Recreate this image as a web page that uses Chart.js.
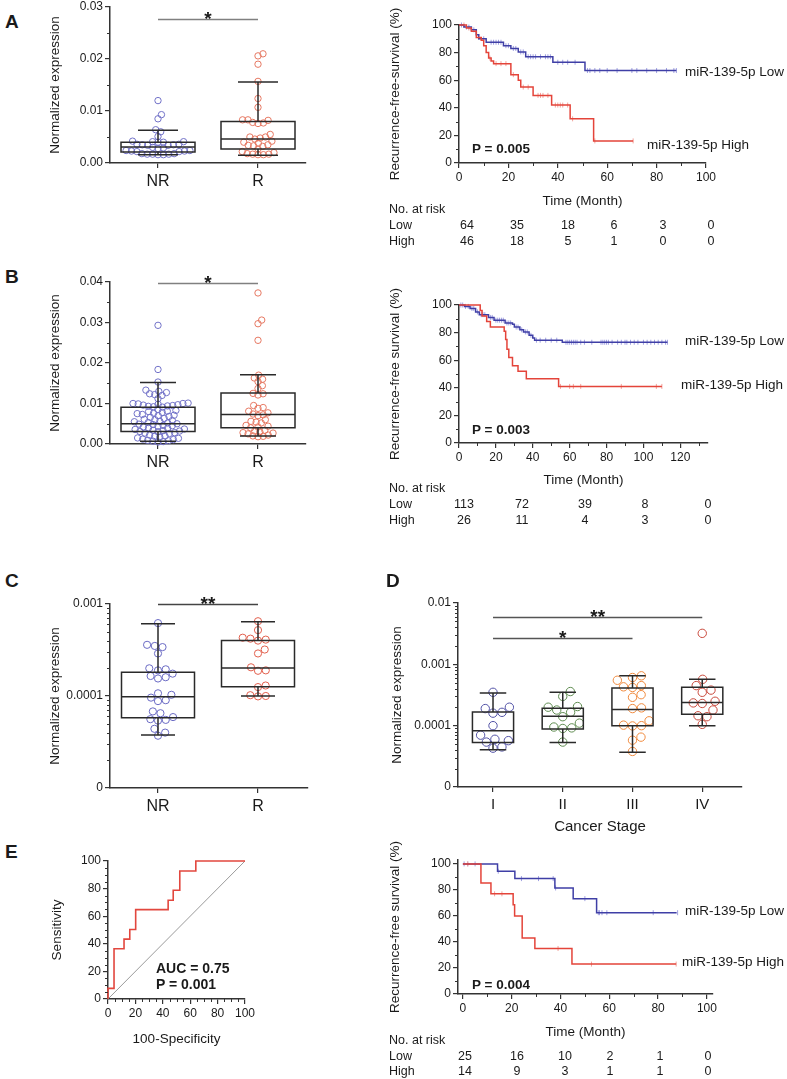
<!DOCTYPE html>
<html>
<head>
<meta charset="utf-8">
<script src="https://cdn.jsdelivr.net/npm/chart.js@4.4.1/dist/chart.umd.min.js"></script>
<style>
  body { margin: 0; background: #fff; width: 787px; height: 1079px; position: relative; overflow: hidden;
         font-family: "Liberation Sans", Arial, sans-serif; color: #1a1a1a; }
  canvas { position: absolute; }
  .t { position: absolute; white-space: nowrap; line-height: 1; }
</style>
</head>
<body>
<script>
// ---------- data ----------
const boxCats = ['NR', 'R'];
const stageCats = ['I', 'II', 'III', 'IV'];

// A, left: normalized expression
const aNR = [0.0120, 0.0093, 0.0085, 0.0064, 0.0060, 0.0051, 0.0042, 0.0041, 0.0041, 0.0040, 0.0040,
  0.0036, 0.0036, 0.0035, 0.0035, 0.0034, 0.0034, 0.0030, 0.0029, 0.0028, 0.0024, 0.0024, 0.0023,
  0.0023, 0.0022, 0.0022, 0.0018, 0.0018, 0.0017, 0.0017, 0.0017, 0.0016, 0.0016];
const aR = [0.0210, 0.0206, 0.0190, 0.0157, 0.0124, 0.0107, 0.0083, 0.0083, 0.0082, 0.0078, 0.0077,
  0.0076, 0.0055, 0.0050, 0.0050, 0.0048, 0.0046, 0.0042, 0.0040, 0.0038, 0.0035, 0.0034, 0.0033,
  0.0032, 0.0027, 0.0022, 0.0020, 0.0018, 0.0017, 0.0017, 0.0016, 0.0016];
// [whisker low, q1, median, q3, whisker high]
const aNRBox = [0.0016, 0.0021, 0.0031, 0.0040, 0.0063];
const aRBox = [0.0015, 0.0027, 0.0046, 0.0080, 0.0156];

// B, left
const bNR = [0.0293, 0.0184, 0.0153, 0.0133, 0.0130, 0.0127, 0.0124, 0.0122, 0.0120, 0.0112,
  0.0101, 0.0100, 0.0100, 0.0099, 0.0098, 0.0097, 0.0096, 0.0095, 0.0094, 0.0093, 0.0092, 0.0091,
  0.0085, 0.0083, 0.0081, 0.0080, 0.0078, 0.0076, 0.0075, 0.0073, 0.0071, 0.0070, 0.0068, 0.0066,
  0.0063, 0.0061, 0.0060, 0.0058, 0.0056, 0.0055, 0.0053, 0.0052, 0.0050, 0.0049, 0.0048, 0.0046,
  0.0045, 0.0044, 0.0042, 0.0040, 0.0039, 0.0037, 0.0036, 0.0034, 0.0033, 0.0032, 0.0031, 0.0030,
  0.0028, 0.0027, 0.0026, 0.0022, 0.0020, 0.0019, 0.0017, 0.0015, 0.0014, 0.0012, 0.0011, 0.0009,
  0.0008, 0.0007, 0.0006, 0.0005];
const bR = [0.0373, 0.0306, 0.0297, 0.0256, 0.0170, 0.0163, 0.0160, 0.0154, 0.0144, 0.0137, 0.0125,
  0.0124, 0.0121, 0.0095, 0.0090, 0.0088, 0.0081, 0.0077, 0.0074, 0.0072, 0.0070, 0.0060, 0.0056,
  0.0054, 0.0052, 0.0046, 0.0044, 0.0042, 0.0040, 0.0034, 0.0032, 0.0030, 0.0028, 0.0027, 0.0025,
  0.0022, 0.0020, 0.0019, 0.0018];
const bNRBox = [0.0007, 0.0031, 0.0050, 0.0091, 0.0152];
const bRBox = [0.0020, 0.0040, 0.0073, 0.0126, 0.0171];

// C (log axis, bottom "0" = 1e-5)
const cNR = [6.2e-4, 3.6e-4, 3.5e-4, 3.4e-4, 2.9e-4, 2.0e-4, 1.95e-4, 1.9e-4, 1.75e-4, 1.65e-4, 1.6e-4,
  1.55e-4, 1.07e-4, 1.03e-4, 9.6e-5, 9.0e-5, 8.8e-5, 6.8e-5, 6.5e-5, 5.9e-5, 5.6e-5, 5.5e-5, 5.4e-5,
  4.4e-5, 4.0e-5, 3.7e-5];
const cR = [6.5e-4, 5.2e-4, 4.3e-4, 4.2e-4, 4.1e-4, 4.0e-4, 3.2e-4, 2.9e-4, 2.05e-4, 1.9e-4, 1.88e-4,
  1.3e-4, 1.25e-4, 1.02e-4, 1.0e-4, 0.99e-4];
const cNRBox = [3.76e-5, 5.8e-5, 9.8e-5, 1.81e-4, 6.1e-4];
const cRBox = [1.0e-4, 1.26e-4, 2.02e-4, 4.0e-4, 6.4e-4];

// D (log axis, by stage)
const dI = [3.5e-4, 2.0e-4, 1.9e-4, 1.65e-4, 1.6e-4, 1.0e-4, 7.0e-5, 6.0e-5, 5.7e-5, 5.4e-5, 4.5e-5, 4.3e-5];
const dII = [3.6e-4, 3.0e-4, 2.05e-4, 2.0e-4, 1.8e-4, 1.65e-4, 1.4e-4, 1.1e-4, 9.5e-5, 9.2e-5, 9.0e-5, 5.4e-5];
const dIII = [6.5e-4, 6.1e-4, 5.5e-4, 4.5e-4, 4.3e-4, 4.2e-4, 3.2e-4, 2.9e-4, 1.95e-4, 1.9e-4, 1.2e-4,
  1.02e-4, 1.0e-4, 0.99e-4, 6.5e-5, 5.8e-5, 3.8e-5];
const dIV = [3.2e-3, 5.7e-4, 4.5e-4, 3.8e-4, 3.5e-4, 2.5e-4, 2.35e-4, 2.3e-4, 1.8e-4, 1.45e-4, 1.4e-4, 1.05e-4];
const dIBox = [4.05e-5, 5.3e-5, 8.3e-5, 1.67e-4, 3.4e-4];
const dIIBox = [5.3e-5, 8.8e-5, 1.42e-4, 1.92e-4, 3.5e-4];
const dIIIBox = [3.7e-5, 1.0e-4, 1.83e-4, 4.1e-4, 6.5e-4];
const dIVBox = [1.0e-4, 1.53e-4, 2.38e-4, 4.25e-4, 5.7e-4];

// Kaplan-Meier: step times (month) and survival (%) after each step, censor times
const kmALowT = [0, 2, 5, 7, 8, 11, 18, 21, 24, 27, 38, 51, 88];
const kmALowS = [100, 98.5, 96.5, 93, 90, 87.5, 85, 83, 80.5, 77, 73, 67, 67];
const kmALowC = [1, 3, 4, 6, 10, 13, 14, 15, 16, 17, 19, 20, 22, 23, 25, 26, 28, 29, 30, 31, 33, 35, 36,
  37, 40, 42, 44, 47, 52, 53, 55, 57, 60, 64, 70, 72, 76, 80, 84, 87, 88];
const kmAHighT = [0, 3, 5, 7, 9, 10, 11, 12, 13, 14, 21, 24, 25, 30, 37.5, 45, 54.5, 70.5];
const kmAHighS = [100, 97.8, 95.5, 91, 89, 85, 80, 76, 74, 72, 64, 60, 55, 49, 42, 32, 16, 16];
const kmAHighC = [2, 4, 8, 12.5, 15, 17, 19, 22, 26, 28, 32, 33, 34, 36, 39, 40, 41, 42, 44, 46, 55, 70.5];

const kmBLowT = [0, 3, 6, 9, 11, 16, 19, 25, 29, 30, 33, 35, 38, 40, 41, 56, 113];
const kmBLowS = [100, 99, 97.5, 95, 93, 91, 89, 87, 86, 84, 82, 80.5, 78, 76, 74.5, 73, 73];
const kmBLowC = [1, 2, 3.5, 5, 7, 8, 10, 12, 13, 14, 17, 18, 20, 21, 22, 23, 24, 26, 27, 28, 31, 32, 34,
  36, 37, 39, 42, 44, 47, 50, 53, 58, 59, 60, 61, 62, 63, 64, 66, 68, 72, 77, 78, 79, 80, 81, 83, 86,
  88, 90, 91, 93, 95, 97, 100, 102, 104, 106, 108, 110, 112, 113];
const kmBHighT = [0, 11.5, 12.5, 15, 17, 24.5, 25.3, 26, 27, 29, 32, 36.5, 54, 110];
const kmBHighS = [100, 96, 92, 88, 84, 81, 75, 68, 62, 56, 52, 46.5, 41, 41];
const kmBHighC = [55, 60, 62, 66, 88, 107, 110];

const kmELowT = [0, 14.2, 21.3, 37.7, 45.2, 54.8, 87.6];
const kmELowS = [100, 94.4, 88.7, 81.5, 73.3, 62.5, 62.5];
const kmELowC = [0.5, 2, 5, 14.5, 24, 31, 37, 38, 50, 55.5, 56, 57, 59, 78, 88];
const kmEHighT = [0, 7.4, 11.5, 20.6, 21.2, 24.3, 29.5, 44.7, 87.4];
const kmEHighS = [100, 85.3, 77, 68.6, 60, 43, 35, 23, 23];
const kmEHighC = [2, 13, 16, 39, 52.7, 87.4];

// numbers at risk
const riskALow = [64, 35, 18, 6, 3, 0];
const riskAHigh = [46, 18, 5, 1, 0, 0];
const riskBLow = [113, 72, 39, 8, 0];
const riskBHigh = [26, 11, 4, 3, 0];
const riskELow = [25, 16, 10, 2, 1, 0];
const riskEHigh = [14, 9, 3, 1, 1, 0];

// ROC (E, left)
const rocFpr = [0, 0, 4.4, 11.7, 15.9, 20.2, 43.9, 47.6, 52.4, 64.1, 100];
const rocTpr = [0, 7.7, 36.4, 43.4, 50.4, 64.8, 71.6, 78.8, 92.8, 100, 100];
const chanceLine = [0, 100];

// ---------- styling / layout ----------
const FONT = '"Liberation Sans", Arial, sans-serif';
const INK = '#333';
const BLUE = '#3f3fa6', RED = '#e4443a';
const BLUE_L = '#a0a0e0', RED_L = '#f2a39c';
const PAD_T = 32, PAD_R = 24;

// target chart areas in page pixels
const AREA = {
  aBox: {l: 110, t: 7, r: 306, b: 163},
  aKm: {l: 459, t: 25, r: 706, b: 163},
  bBox: {l: 110, t: 282, r: 306, b: 444},
  bKm: {l: 459, t: 305, r: 708, b: 443},
  cBox: {l: 110, t: 604, r: 308, b: 788},
  dBox: {l: 458, t: 603, r: 742, b: 787},
  eRoc: {l: 108, t: 861, r: 245, b: 999},
  eKm: {l: 458, t: 860, r: 713, b: 994}
};

function place(area, yW, xH) {
  const c = document.createElement('canvas');
  const left = area.l - yW, top = area.t - PAD_T;
  c.width = area.r - left + PAD_R;
  c.height = area.b + xH - top;
  c.style.left = left + 'px';
  c.style.top = top + 'px';
  document.body.appendChild(c);
  return {canvas: c, padding: {top: PAD_T, right: PAD_R, left: 0, bottom: 0}};
}

function axis(o) {
  return {
    type: o.type || 'linear', min: o.min, max: o.max,
    afterFit: s => { if (s.isHorizontal()) s.height = o.size; else s.width = o.size; },
    afterBuildTicks: s => { s.ticks = o.ticks.map(v => ({value: v})); },
    ticks: {font: {family: FONT, size: o.font || 12}, color: '#1a1a1a', padding: o.pad, autoSkip: false,
      maxRotation: 0, callback: o.fmt || (v => String(v))},
    grid: {drawOnChartArea: false, drawTicks: true, tickLength: 5, color: INK, lineWidth: 1.2},
    border: {display: true, color: INK, width: 1.5},
    title: {display: !!o.title, text: o.title || '', font: {family: FONT, size: o.titleFont || 13.5},
      color: '#1a1a1a', padding: 0}
  };
}

function base(padding, scales) {
  return {
    responsive: false, animation: false, events: [],
    layout: {padding},
    plugins: {legend: {display: false}, tooltip: {enabled: false}},
    scales
  };
}

// short unlabeled ticks between the labeled ones
function minorPlugin(xs, ys) {
  return {
    id: 'minor',
    afterDraw(chart) {
      const {ctx, chartArea: a, scales: {x, y}} = chart;
      ctx.save();
      ctx.strokeStyle = INK;
      ctx.lineWidth = 1;
      ctx.beginPath();
      xs.forEach(v => { const p = Math.round(x.getPixelForValue(v)) + 0.5; ctx.moveTo(p, a.bottom); ctx.lineTo(p, a.bottom + 3); });
      ys.forEach(v => { const p = Math.round(y.getPixelForValue(v)) + 0.5; ctx.moveTo(a.left, p); ctx.lineTo(a.left - 3, p); });
      ctx.stroke();
      ctx.restore();
    }
  };
}

function boxPlugin(stats, half, cap) {
  return {
    id: 'boxes',
    afterDatasetsDraw(chart) {
      const {ctx, scales: {x, y}} = chart;
      ctx.save();
      ctx.strokeStyle = '#2a2a2a';
      ctx.lineWidth = 1.5;
      stats.forEach((s, i) => {
        const [lo, q1, med, q3, hi] = s.map(v => y.getPixelForValue(v));
        const xl = x.getPixelForValue(i - half), xr = x.getPixelForValue(i + half);
        const cl = x.getPixelForValue(i - cap), cr = x.getPixelForValue(i + cap);
        const xc = x.getPixelForValue(i);
        ctx.beginPath();
        ctx.rect(xl, q3, xr - xl, q1 - q3);
        ctx.moveTo(xl, med); ctx.lineTo(xr, med);
        ctx.moveTo(xc, q3); ctx.lineTo(xc, hi);
        ctx.moveTo(xc, q1); ctx.lineTo(xc, lo);
        ctx.moveTo(cl, hi); ctx.lineTo(cr, hi);
        ctx.moveTo(cl, lo); ctx.lineTo(cr, lo);
        ctx.stroke();
      });
      ctx.restore();
    }
  };
}

function sigPlugin(bars, color) {
  return {
    id: 'sig',
    afterDraw(chart) {
      const {ctx, scales: {x, y}} = chart;
      ctx.save();
      bars.forEach(b => {
        const py = Math.round(y.getPixelForValue(b.y)) + 0.5;
        const x0 = x.getPixelForValue(b.from), x1 = x.getPixelForValue(b.to);
        ctx.strokeStyle = color;
        ctx.lineWidth = 1.5;
        ctx.beginPath(); ctx.moveTo(x0, py); ctx.lineTo(x1, py); ctx.stroke();
        ctx.fillStyle = '#1a1a1a';
        ctx.font = 'bold 19px ' + FONT;
        ctx.textAlign = 'center';
        ctx.textBaseline = 'alphabetic';
        ctx.fillText(b.text, (x0 + x1) / 2, py + 5);
      });
      ctx.restore();
    }
  };
}

// deterministic beeswarm offsets, in pixels
function swarm(values, toPx, diam) {
  const pts = values.map((v, i) => ({i, y: toPx(v)})).sort((a, b) => b.y - a.y);
  const placed = [], out = new Array(values.length);
  pts.forEach(p => {
    const cands = [0];
    placed.forEach(q => {
      const dy = Math.abs(q.y - p.y);
      if (dy < diam) { const dx = Math.sqrt(diam * diam - dy * dy); cands.push(q.x + dx, q.x - dx); }
    });
    cands.sort((a, b) => Math.abs(a) - Math.abs(b));
    const x = cands.find(c => placed.every(q => (q.x - c) ** 2 + (q.y - p.y) ** 2 >= diam * diam - 0.01));
    placed.push({x, y: p.y});
    out[p.i] = x;
  });
  return out;
}

function boxChart(o) {
  const {canvas, padding} = place(o.area, o.yW, o.xH);
  const h = o.area.b - o.area.t;
  const yPx = o.log
    ? v => o.area.b - (Math.log10(v) - Math.log10(o.ymin)) / (Math.log10(o.ymax) - Math.log10(o.ymin)) * h
    : v => o.area.b - (v - o.ymin) / (o.ymax - o.ymin) * h;
  const catPx = (o.area.r - o.area.l) / (o.xmax - o.xmin);
  const datasets = o.groups.map((vals, i) => {
    const offs = swarm(vals, yPx, o.gap);
    return {
      data: vals.map((v, k) => ({x: i + offs[k] / catPx, y: v})),
      pointRadius: o.radius, pointBorderWidth: 1, pointBorderColor: o.colors[i],
      pointBackgroundColor: 'rgba(255,255,255,0)', clip: false
    };
  });
  new Chart(canvas, {
    type: 'scatter',
    data: {datasets},
    options: base(padding, {
      x: axis({min: o.xmin, max: o.xmax, ticks: o.cats.map((c, i) => i), fmt: (v, i) => o.cats[i],
        size: o.xH, font: o.catFont, pad: 4, title: o.xTitle, titleFont: 15}),
      y: axis({type: o.log ? 'logarithmic' : 'linear', min: o.ymin, max: o.ymax, ticks: o.yticks,
        fmt: (v, i) => o.ylabels[i], size: o.yW, pad: 2, title: 'Normalized expression'})
    }),
    plugins: [boxPlugin(o.stats, o.half, o.cap), sigPlugin(o.sig, o.sigColor), minorPlugin([], o.yminor)]
  });
}

const KM_TICKS = [0, 20, 40, 60, 80, 100];
const KM_MINOR = [10, 30, 50, 70, 90];

function kmChart(o) {
  const {canvas, padding} = place(o.area, o.yW, o.xH);
  const survAt = (c, t) => { let s = c.S[0]; c.T.forEach((ti, i) => { if (ti <= t) s = c.S[i]; }); return s; };
  const lines = o.curves.map(c => ({
    data: c.T.map((t, i) => ({x: t, y: c.S[i]})), showLine: true, stepped: true,
    borderColor: c.color, borderWidth: 1.5, pointRadius: 0, clip: 4
  }));
  const marks = o.curves.map(c => ({
    data: c.C.map(t => ({x: t, y: survAt(c, t)})), showLine: false, pointStyle: 'line', rotation: 90,
    pointRadius: 2.5, pointBorderWidth: 1, pointBorderColor: c.light, clip: 4
  }));
  new Chart(canvas, {
    type: 'scatter',
    data: {datasets: [...lines, ...marks]},
    options: base(padding, {
      x: axis({min: o.xmin, max: o.xmax, ticks: o.xticks, size: o.xH, pad: 2, title: 'Time (Month)'}),
      y: axis({min: 0, max: o.ymax, ticks: KM_TICKS, size: o.yW, pad: 2, title: o.yTitle})
    }),
    plugins: [minorPlugin(o.xminor, KM_MINOR)]
  });
}

function text(str, x, y, o = {}) {
  const d = document.createElement('div');
  d.className = 't';
  d.textContent = str;
  d.style.left = x + 'px';
  d.style.top = y + 'px';
  d.style.fontSize = (o.size || 13.5) + 'px';
  if (o.bold) d.style.fontWeight = 'bold';
  const ax = o.align === 'center' ? -50 : o.align === 'right' ? -100 : 0;
  d.style.transform = `translate(${ax}%, -50%)`;
  document.body.appendChild(d);
}

function riskTable(rows, cols, low, high) {
  text('No. at risk', 389, rows[0], {size: 12.5});
  text('Low', 389, rows[1], {size: 12.5});
  text('High', 389, rows[2], {size: 12.5});
  cols.forEach((cx, i) => {
    text(String(low[i]), cx, rows[1], {size: 12.5, align: 'center'});
    text(String(high[i]), cx, rows[2], {size: 12.5, align: 'center'});
  });
}

// ---------- panels ----------
const LIN_BLUE = '#7272c8', LIN_RED = '#e67862';

boxChart({
  area: AREA.aBox, yW: 63, xH: 30, xmin: -0.48, xmax: 1.48, cats: boxCats, catFont: 16,
  ymin: 0, ymax: 0.03, yticks: [0, 0.01, 0.02, 0.03], ylabels: ['0.00', '0.01', '0.02', '0.03'],
  yminor: [0.005, 0.015, 0.025], groups: [aNR, aR], colors: [LIN_BLUE, LIN_RED], radius: 3.2, gap: 5.4,
  stats: [aNRBox, aRBox], half: 0.37, cap: 0.2, sig: [{from: 0, to: 1, y: 0.0277, text: '*'}], sigColor: '#808080'
});

boxChart({
  area: AREA.bBox, yW: 63, xH: 30, xmin: -0.48, xmax: 1.48, cats: boxCats, catFont: 16,
  ymin: 0, ymax: 0.04, yticks: [0, 0.01, 0.02, 0.03, 0.04], ylabels: ['0.00', '0.01', '0.02', '0.03', '0.04'],
  yminor: [0.005, 0.015, 0.025, 0.035], groups: [bNR, bR], colors: [LIN_BLUE, LIN_RED], radius: 3.2, gap: 5.2,
  stats: [bNRBox, bRBox], half: 0.37, cap: 0.18, sig: [{from: 0, to: 1, y: 0.0398, text: '*'}], sigColor: '#808080'
});

const decadeMinor = (from, to) => {
  const out = [];
  for (let e = from; e < to; e++) for (let m = 2; m <= 9; m++) out.push(m * Math.pow(10, e));
  return out;
};

boxChart({
  area: AREA.cBox, yW: 63, xH: 30, xmin: -0.48, xmax: 1.5, cats: boxCats, catFont: 16, log: true,
  ymin: 1e-5, ymax: 1e-3, yticks: [1e-5, 1e-4, 1e-3], ylabels: ['0', '0.0001', '0.001'],
  yminor: decadeMinor(-5, -3), groups: [cNR, cR], colors: ['#6a6ac4', '#e2604e'], radius: 3.6, gap: 7.8,
  stats: [cNRBox, cRBox], half: 0.365, cap: 0.17, sig: [{from: 0, to: 1, y: 1e-3, text: '**'}], sigColor: '#444'
});

boxChart({
  area: AREA.dBox, yW: 69, xH: 49, xmin: -0.502, xmax: 3.57, cats: stageCats, catFont: 15, log: true,
  xTitle: 'Cancer Stage',
  ymin: 1e-5, ymax: 1e-2, yticks: [1e-5, 1e-4, 1e-3, 1e-2], ylabels: ['0', '0.0001', '0.001', '0.01'],
  yminor: decadeMinor(-5, -2), groups: [dI, dII, dIII, dIV],
  colors: ['#5252a6', '#5f8c50', '#f08a3e', '#c9493c'], radius: 4.2, gap: 9,
  stats: [dIBox, dIIBox, dIIIBox, dIVBox], half: 0.295, cap: 0.19,
  sig: [{from: 0, to: 3, y: 5.9e-3, text: '**'}, {from: 0, to: 2, y: 2.7e-3, text: '*'}], sigColor: '#555'
});

kmChart({
  area: AREA.aKm, yW: 72, xH: 46, xmin: 0, xmax: 100, ymax: 100, xticks: KM_TICKS, xminor: KM_MINOR,
  yTitle: 'Recurrence-free-survival (%)',
  curves: [
    {T: kmAHighT, S: kmAHighS, C: kmAHighC, color: RED, light: RED_L},
    {T: kmALowT, S: kmALowS, C: kmALowC, color: BLUE, light: BLUE_L}
  ]
});

kmChart({
  area: AREA.bKm, yW: 72, xH: 45, xmin: 0, xmax: 135, ymax: 100, xticks: [0, 20, 40, 60, 80, 100, 120],
  xminor: [10, 30, 50, 70, 90, 110, 130], yTitle: 'Recurrence-free survival (%)',
  curves: [
    {T: kmBHighT, S: kmBHighS, C: kmBHighC, color: RED, light: RED_L},
    {T: kmBLowT, S: kmBLowS, C: kmBLowC, color: BLUE, light: BLUE_L}
  ]
});

kmChart({
  area: AREA.eKm, yW: 71, xH: 46, xmin: -2, xmax: 102.5, ymax: 103, xticks: KM_TICKS, xminor: KM_MINOR,
  yTitle: 'Recurrence-free survival (%)',
  curves: [
    {T: kmEHighT, S: kmEHighS, C: kmEHighC, color: RED, light: RED_L},
    {T: kmELowT, S: kmELowS, C: kmELowC, color: BLUE, light: BLUE_L}
  ]
});

// ROC
(function () {
  const {canvas, padding} = place(AREA.eRoc, 59, 48);
  const rocMinor = [];
  for (let v = 5; v < 100; v += 5) if (v % 20) rocMinor.push(v);
  new Chart(canvas, {
    type: 'scatter',
    data: {datasets: [
      {data: rocFpr.map((x, i) => ({x, y: rocTpr[i]})), showLine: true, stepped: true,
        borderColor: '#e2473e', borderWidth: 1.6, pointRadius: 0, clip: 4},
      {data: chanceLine.map(v => ({x: v, y: v})), showLine: true, borderColor: '#9a9a9a',
        borderWidth: 1, pointRadius: 0}
    ]},
    options: base(padding, {
      x: axis({min: 0, max: 100, ticks: KM_TICKS, size: 48, pad: 2, title: '100-Specificity'}),
      y: axis({min: 0, max: 100, ticks: KM_TICKS, size: 59, pad: 2, title: 'Sensitivity'})
    }),
    plugins: [minorPlugin(rocMinor, rocMinor)]
  });
})();

// ---------- text ----------
[['A', 5, 21], ['B', 5, 276], ['C', 5, 580], ['D', 386, 580], ['E', 5, 851]]
  .forEach(([s, x, y]) => text(s, x, y, {size: 19, bold: true}));

text('miR-139-5p Low', 685, 72);
text('miR-139-5p High', 647, 145);
text('P = 0.005', 472, 149, {bold: true, size: 13.5});
riskTable([209, 225, 241], [467, 517, 568, 614, 663, 711], riskALow, riskAHigh);

text('miR-139-5p Low', 685, 341);
text('miR-139-5p High', 681, 385);
text('P = 0.003', 472, 430, {bold: true, size: 13.5});
riskTable([488, 504, 520], [464, 522, 585, 645, 708], riskBLow, riskBHigh);

text('miR-139-5p Low', 685, 911);
text('miR-139-5p High', 682, 962);
text('P = 0.004', 472, 985, {bold: true, size: 13.5});
riskTable([1040, 1056, 1071], [465, 517, 565, 610, 660, 708], riskELow, riskEHigh);

text('AUC = 0.75', 156, 968, {bold: true, size: 14});
text('P = 0.001', 156, 984, {bold: true, size: 14});
</script>
</body>
</html>
